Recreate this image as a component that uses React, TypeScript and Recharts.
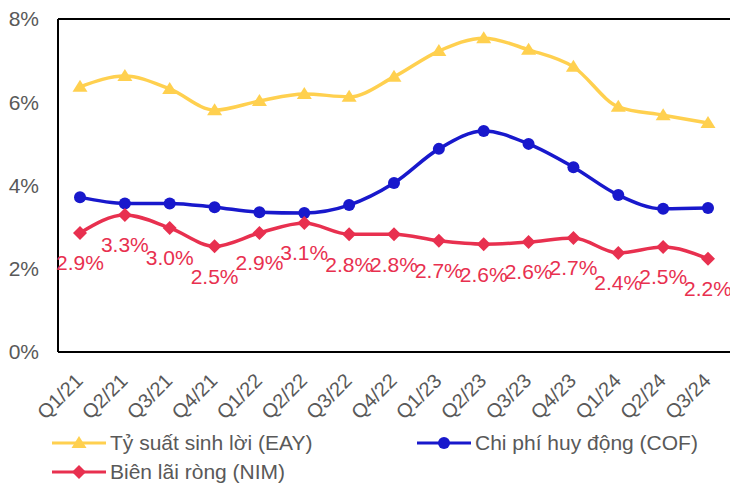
import React from 'react';
import { LineChart, Line, XAxis, YAxis, ReferenceLine, LabelList, Legend } from 'recharts';

const categories = ['Q1/21', 'Q2/21', 'Q3/21', 'Q4/21', 'Q1/22', 'Q2/22', 'Q3/22', 'Q4/22', 'Q1/23', 'Q2/23', 'Q3/23', 'Q4/23', 'Q1/24', 'Q2/24', 'Q3/24'];
const eay = [6.37, 6.63, 6.32, 5.81, 6.03, 6.2, 6.13, 6.61, 7.23, 7.54, 7.26, 6.85, 5.89, 5.69, 5.5];
const cof = [3.72, 3.57, 3.57, 3.48, 3.36, 3.34, 3.53, 4.06, 4.88, 5.31, 5.0, 4.44, 3.77, 3.44, 3.46];
const nim = [2.86, 3.29, 2.98, 2.54, 2.86, 3.1, 2.83, 2.83, 2.67, 2.59, 2.64, 2.74, 2.38, 2.52, 2.24];
const yTicks = [0, 2, 4, 6, 8];
const seriesNames = ['Tỷ suất sinh lời (EAY)', 'Chi phí huy động (COF)', 'Biên lãi ròng (NIM)'];

const C_EAY = '#FFD04F';
const C_COF = '#1818CC';
const C_NIM = '#E8304F';
const FONT = '"Liberation Sans", Arial, sans-serif';
const GRAY = '#595959';

const data = categories.map((q, i) => ({ q, eay: eay[i], cof: cof[i], nim: nim[i] }));

const triPath = (cx: number, cy: number) => `M${cx},${cy - 7} L${cx + 7.5},${cy + 5} L${cx - 7.5},${cy + 5} Z`;
const diaPath = (cx: number, cy: number) => `M${cx},${cy - 7} L${cx + 7},${cy} L${cx},${cy + 7} L${cx - 7},${cy} Z`;

const TriDot = (p: any) => <path key={`t${p.index}`} d={triPath(p.cx, p.cy)} fill={C_EAY} />;
const CircDot = (p: any) => <circle key={`c${p.index}`} cx={p.cx} cy={p.cy} r={6} fill={C_COF} />;
const DiaDot = (p: any) => <path key={`d${p.index}`} d={diaPath(p.cx, p.cy)} fill={C_NIM} />;

const XTick = (p: any) => {
  const x = p.x + 4;
  const y = p.y + 30;
  return (
    <text x={x} y={y} transform={`rotate(-45, ${x}, ${y})`} textAnchor="end" fontSize={20} fontFamily={FONT} fill={GRAY}>
      {p.payload.value}
    </text>
  );
};

const NimLabel = (p: any) => (
  <text x={p.x} y={p.y + 30} dy="0.35em" textAnchor="middle" fontSize={21} fontFamily={FONT} fill={C_NIM}>
    {`${Number(p.value).toFixed(1)}%`}
  </text>
);

const LegendContent = () => {
  const rows = [
    { x: 52, y: 17, color: C_EAY, kind: 'tri', name: seriesNames[0] },
    { x: 417, y: 17, color: C_COF, kind: 'circ', name: seriesNames[1] },
    { x: 52, y: 46, color: C_NIM, kind: 'dia', name: seriesNames[2] },
  ];
  return (
    <svg width={730} height={58} style={{ display: 'block' }}>
      {rows.map((r) => {
        const mx = r.x + 27;
        return (
          <g key={r.name}>
            <line x1={r.x} x2={r.x + 54} y1={r.y} y2={r.y} stroke={r.color} strokeWidth={3} />
            {r.kind === 'tri' && <path d={triPath(mx, r.y)} fill={r.color} />}
            {r.kind === 'circ' && <circle cx={mx} cy={r.y} r={6} fill={r.color} />}
            {r.kind === 'dia' && <path d={diaPath(mx, r.y)} fill={r.color} />}
            <text x={r.x + 58} y={r.y} dy="0.35em" fontSize={21} fontFamily={FONT} fill={GRAY}>{r.name}</text>
          </g>
        );
      })}
    </svg>
  );
};

export default function App() {
  return (
    <div style={{ position: 'absolute', left: 0, top: 0, width: 730, height: 484, background: '#fff' }}>
      <LineChart width={730} height={484} data={data} margin={{ top: 19, right: 0, left: 0, bottom: 0 }}>
        <XAxis
          dataKey="q"
          type="category"
          padding={{ left: 22, right: 22 }}
          axisLine={{ stroke: '#000', strokeWidth: 2 }}
          tickLine={false}
          tickSize={0}
          tickMargin={0}
          height={74}
          interval={0}
          tick={<XTick />}
        />
        <YAxis
          domain={[0, 8]}
          ticks={yTicks}
          width={58}
          axisLine={{ stroke: '#000', strokeWidth: 2 }}
          tickLine={false}
          tickSize={0}
          tickMargin={19}
          tickFormatter={(v: number) => `${v}%`}
          tick={{ fontSize: 21, fontFamily: FONT, fill: GRAY }}
        />
        <ReferenceLine y={8} stroke="#000" strokeWidth={2} />
        <Legend
          verticalAlign="bottom"
          content={<LegendContent />}
          wrapperStyle={{ left: 0, bottom: 0, width: 730, height: 58 }}
        />
        <Line type="monotone" dataKey="eay" name={seriesNames[0]} stroke={C_EAY} strokeWidth={3.5} dot={TriDot} activeDot={false} isAnimationActive={false} />
        <Line type="monotone" dataKey="cof" name={seriesNames[1]} stroke={C_COF} strokeWidth={3.5} dot={CircDot} activeDot={false} isAnimationActive={false} />
        <Line type="monotone" dataKey="nim" name={seriesNames[2]} stroke={C_NIM} strokeWidth={3.5} dot={DiaDot} activeDot={false} isAnimationActive={false}>
          <LabelList dataKey="nim" content={<NimLabel />} />
        </Line>
      </LineChart>
    </div>
  );
}
